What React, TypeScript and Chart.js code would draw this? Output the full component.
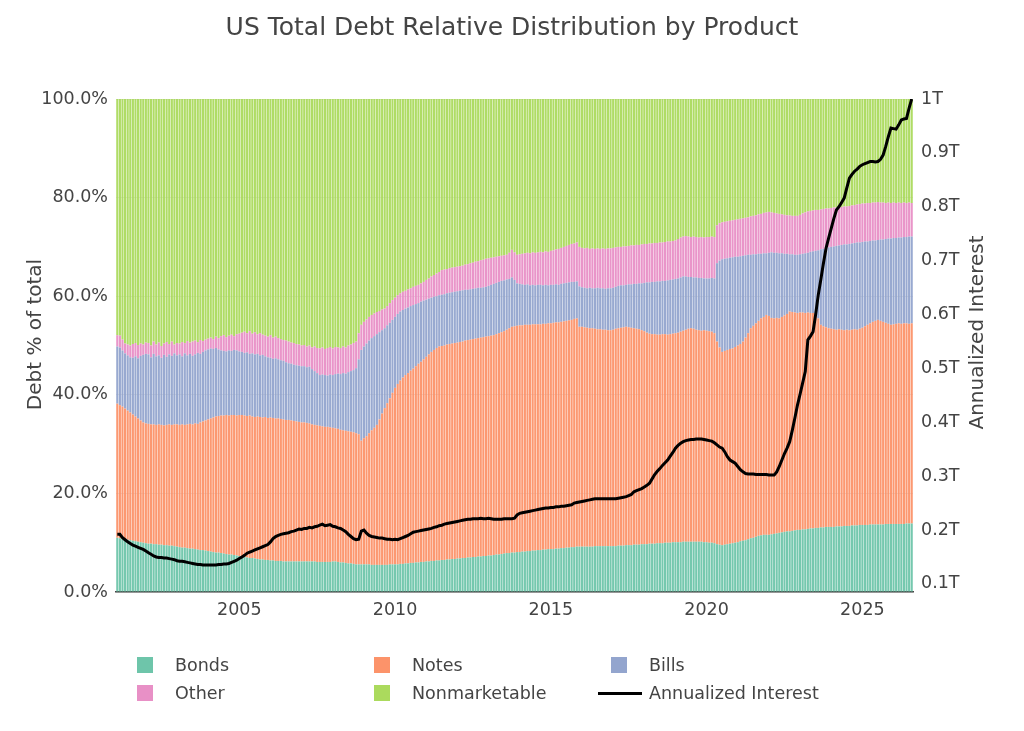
import React, { useEffect, useRef } from 'react';
import { Chart, registerables } from 'chart.js';

Chart.register(...registerables);

const FONT = '"DejaVu Sans", Verdana, sans-serif';
const INK = '#444';

// month-end observations, Jan 2001 .. Jul 2026
const firstYear = 2001;
const lastYear = 2026;
const lastMonth = 7;
const months: string[] = [];
for (let y = firstYear; y <= lastYear; y++) {
  for (let m = 1; m <= 12; m++) {
    if (y === lastYear && m > lastMonth) break;
    months.push(`${y}-${String(m).padStart(2, '0')}`);
  }
}

const yearTicks = ['2005', '2010', '2015', '2020', '2025'];
const rightTicks = [0.1, 0.2, 0.3, 0.4, 0.5, 0.6, 0.7, 0.8, 0.9, 1];

// share of total debt, percent
const bonds = [
  11.0, 10.9, 10.8, 10.7, 10.6, 10.5, 10.4, 10.3, 10.2, 10.1, 10.0, 9.9,
  9.8, 9.8, 9.7, 9.7, 9.6, 9.6, 9.5, 9.5, 9.4, 9.4, 9.3, 9.2,
  9.1, 9.0, 9.0, 8.9, 8.8, 8.8, 8.7, 8.6, 8.5, 8.5, 8.4, 8.3,
  8.2, 8.1, 8.0, 8.0, 7.9, 7.8, 7.7, 7.6, 7.6, 7.5, 7.4, 7.3,
  7.2, 7.1, 7.0, 6.9, 6.9, 6.8, 6.7, 6.6, 6.6, 6.5, 6.5, 6.4,
  6.4, 6.3, 6.3, 6.3, 6.2, 6.2, 6.2, 6.2, 6.2, 6.2, 6.2, 6.2,
  6.2, 6.2, 6.2, 6.2, 6.2, 6.1, 6.1, 6.1, 6.1, 6.1, 6.1, 6.2,
  6.2, 6.1, 6.0, 6.0, 5.9, 5.8, 5.8, 5.7, 5.6, 5.6, 5.6, 5.6,
  5.6, 5.6, 5.5, 5.5, 5.5, 5.5, 5.5, 5.5, 5.5, 5.6, 5.6, 5.6,
  5.6, 5.7, 5.7, 5.8, 5.8, 5.9, 5.9, 6.0, 6.0, 6.1, 6.1, 6.2,
  6.2, 6.3, 6.3, 6.4, 6.4, 6.5, 6.5, 6.6, 6.6, 6.7, 6.7, 6.8,
  6.8, 6.9, 6.9, 7.0, 7.0, 7.1, 7.1, 7.2, 7.2, 7.3, 7.3, 7.4,
  7.4, 7.5, 7.6, 7.6, 7.7, 7.8, 7.9, 7.9, 8.0, 8.0, 8.1, 8.1,
  8.2, 8.2, 8.3, 8.3, 8.4, 8.4, 8.5, 8.5, 8.6, 8.6, 8.7, 8.7,
  8.7, 8.8, 8.8, 8.9, 8.9, 9.0, 9.0, 9.1, 9.1, 9.2, 9.2, 9.2,
  9.2, 9.2, 9.2, 9.2, 9.3, 9.3, 9.3, 9.3, 9.3, 9.3, 9.3, 9.3,
  9.3, 9.4, 9.4, 9.4, 9.5, 9.5, 9.5, 9.6, 9.6, 9.6, 9.7, 9.7,
  9.7, 9.8, 9.8, 9.8, 9.9, 9.9, 9.9, 10.0, 10.0, 10.0, 10.1, 10.1,
  10.1, 10.1, 10.2, 10.2, 10.2, 10.2, 10.2, 10.2, 10.2, 10.2, 10.1, 10.1,
  10.0, 10.0, 9.9, 9.7, 9.6, 9.5, 9.6, 9.7, 9.8, 9.9, 10.0, 10.1,
  10.3, 10.4, 10.5, 10.7, 10.9, 11.0, 11.2, 11.4, 11.5, 11.6, 11.6, 11.6,
  11.7, 11.8, 11.9, 12.0, 12.1, 12.2, 12.3, 12.3, 12.4, 12.5, 12.6, 12.6,
  12.7, 12.7, 12.8, 12.9, 12.9, 13.0, 13.0, 13.1, 13.1, 13.2, 13.2, 13.2,
  13.2, 13.3, 13.3, 13.3, 13.4, 13.4, 13.4, 13.5, 13.5, 13.5, 13.6, 13.6,
  13.6, 13.6, 13.7, 13.7, 13.7, 13.7, 13.7, 13.7, 13.8, 13.8, 13.8, 13.8,
  13.8, 13.8, 13.8, 13.8, 13.9, 13.9, 13.9,
];

const notes = [
  27.2, 27.0, 26.8, 26.5, 26.2, 25.9, 25.6, 25.3, 25.0, 24.7, 24.4, 24.3,
  24.3, 24.2, 24.3, 24.2, 24.4, 24.3, 24.3, 24.4, 24.6, 24.5, 24.7, 24.8,
  24.8, 25.0, 24.9, 25.1, 25.3, 25.2, 25.5, 25.5, 25.9, 26.1, 26.4, 26.7,
  27.0, 27.3, 27.6, 27.7, 27.9, 28.0, 28.2, 28.2, 28.3, 28.4, 28.4, 28.6,
  28.7, 28.7, 28.7, 28.9, 28.7, 28.7, 28.9, 28.9, 28.8, 29.0, 28.8, 29.0,
  28.9, 28.9, 28.9, 28.8, 28.8, 28.7, 28.7, 28.6, 28.5, 28.4, 28.3, 28.2,
  28.2, 28.1, 28.0, 27.8, 27.7, 27.7, 27.6, 27.5, 27.4, 27.4, 27.3, 27.1,
  27.0, 27.0, 26.9, 26.8, 26.8, 26.8, 26.7, 26.7, 26.6, 26.4, 25.1, 25.6,
  26.0, 26.6, 27.3, 27.8, 28.4, 29.5, 30.7, 31.8, 32.8, 33.7, 34.8, 35.8,
  36.6, 37.2, 37.8, 38.2, 38.6, 39.0, 39.4, 39.8, 40.3, 40.6, 41.1, 41.5,
  42.0, 42.4, 42.8, 43.1, 43.4, 43.4, 43.5, 43.6, 43.7, 43.7, 43.8, 43.8,
  43.9, 43.9, 44.1, 44.1, 44.2, 44.2, 44.3, 44.3, 44.4, 44.4, 44.5, 44.5,
  44.6, 44.6, 44.7, 44.9, 45.0, 45.1, 45.3, 45.6, 45.8, 45.9, 45.9, 46.0,
  45.9, 46.0, 45.9, 45.9, 45.9, 45.9, 45.8, 45.8, 45.8, 45.8, 45.8, 45.8,
  45.9, 45.9, 45.9, 45.9, 46.0, 46.0, 46.1, 46.1, 46.3, 46.3, 44.6, 44.6,
  44.5, 44.4, 44.3, 44.3, 44.1, 44.0, 44.0, 43.9, 43.9, 43.8, 43.8, 43.9,
  44.1, 44.1, 44.2, 44.3, 44.3, 44.2, 44.1, 43.9, 43.8, 43.7, 43.4, 43.2,
  42.9, 42.6, 42.5, 42.5, 42.3, 42.3, 42.4, 42.3, 42.2, 42.3, 42.3, 42.4,
  42.5, 42.7, 42.8, 43.0, 43.2, 43.3, 43.2, 43.0, 42.9, 42.8, 43.0, 42.9,
  42.9, 42.8, 42.6, 41.1, 40.0, 39.2, 39.3, 39.4, 39.5, 39.5, 39.7, 39.9,
  40.0, 40.4, 41.1, 41.8, 42.6, 43.0, 43.3, 43.6, 44.0, 44.2, 44.6, 44.4,
  43.9, 43.7, 43.7, 43.5, 43.7, 43.9, 44.1, 44.6, 44.4, 44.2, 44.0, 44.1,
  44.0, 43.9, 43.9, 43.7, 43.7, 43.6, 42.5, 41.1, 40.8, 40.5, 40.3, 40.2,
  40.1, 39.9, 40.0, 39.9, 39.7, 39.8, 39.7, 39.7, 39.8, 39.7, 39.8, 40.0,
  40.3, 40.6, 40.8, 41.1, 41.3, 41.5, 41.3, 41.1, 40.8, 40.6, 40.4, 40.5,
  40.6, 40.7, 40.6, 40.7, 40.6, 40.5, 40.6,
];

const bills = [
  11.6, 11.7, 11.4, 11.2, 11.2, 11.2, 11.5, 12.2, 12.2, 13.1, 13.7, 14.1,
  14.1, 13.6, 14.3, 13.9, 14.0, 13.6, 14.3, 13.8, 14.2, 14.0, 14.4, 14.0,
  14.3, 13.8, 14.5, 14.0, 14.2, 13.9, 14.0, 14.4, 13.9, 14.1, 14.2, 14.2,
  14.2, 13.9, 13.9, 13.5, 13.2, 13.1, 12.9, 13.2, 13.0, 13.2, 13.2, 12.9,
  12.8, 12.7, 12.9, 12.5, 12.8, 12.7, 12.7, 12.5, 12.7, 12.3, 12.3, 12.1,
  12.0, 12.2, 12.0, 11.9, 11.9, 11.7, 11.5, 11.5, 11.4, 11.4, 11.4, 11.4,
  11.4, 11.3, 11.5, 11.2, 10.9, 10.6, 10.3, 10.5, 10.5, 10.4, 10.7, 10.7,
  11.0, 11.2, 11.3, 11.6, 11.6, 12.0, 12.3, 12.6, 13.2, 15.2, 18.4, 18.6,
  18.8, 18.8, 18.7, 18.6, 18.4, 17.7, 16.9, 16.2, 15.8, 15.3, 14.8, 14.4,
  14.2, 14.0, 13.7, 13.5, 13.3, 13.1, 12.9, 12.6, 12.3, 12.2, 11.9, 11.6,
  11.3, 11.0, 10.8, 10.5, 10.4, 10.4, 10.4, 10.4, 10.4, 10.4, 10.4, 10.4,
  10.4, 10.4, 10.3, 10.2, 10.2, 10.2, 10.2, 10.2, 10.1, 10.1, 10.1, 10.2,
  10.3, 10.4, 10.4, 10.4, 10.4, 10.3, 10.2, 10.0, 10.0, 9.4, 8.6, 8.4,
  8.3, 8.1, 8.2, 8.0, 8.0, 7.9, 8.0, 8.0, 7.8, 7.9, 7.7, 7.8,
  7.7, 7.7, 7.6, 7.7, 7.7, 7.7, 7.7, 7.7, 7.5, 7.5, 8.2, 8.0,
  8.0, 8.0, 8.2, 8.1, 8.2, 8.4, 8.3, 8.4, 8.3, 8.5, 8.5, 8.5,
  8.5, 8.6, 8.6, 8.5, 8.5, 8.7, 8.8, 9.0, 9.1, 9.3, 9.5, 9.8,
  10.2, 10.4, 10.6, 10.6, 10.8, 10.8, 10.8, 10.8, 11.0, 11.0, 11.0, 11.0,
  11.0, 11.0, 11.0, 10.8, 10.5, 10.4, 10.4, 10.6, 10.6, 10.7, 10.5, 10.6,
  10.7, 10.9, 11.1, 15.9, 17.6, 18.8, 18.7, 18.6, 18.5, 18.5, 18.3, 18.0,
  17.8, 17.4, 16.7, 15.9, 14.9, 14.5, 14.0, 13.6, 13.1, 12.9, 12.5, 12.8,
  13.3, 13.3, 13.2, 13.2, 12.9, 12.5, 12.2, 11.6, 11.7, 11.7, 11.8, 11.8,
  11.9, 12.1, 12.1, 12.4, 12.5, 12.6, 13.8, 15.3, 15.7, 16.0, 16.4, 16.6,
  16.8, 17.0, 17.0, 17.2, 17.4, 17.3, 17.5, 17.5, 17.5, 17.7, 17.5, 17.4,
  17.2, 16.9, 16.7, 16.5, 16.3, 16.2, 16.5, 16.7, 17.0, 17.3, 17.5, 17.5,
  17.4, 17.4, 17.5, 17.5, 17.5, 17.7, 17.6,
];

const other = [
  2.3, 2.4, 2.2, 2.0, 2.2, 2.4, 2.8, 2.7, 2.7, 2.5, 2.1, 2.3,
  2.3, 2.4, 2.5, 2.4, 2.6, 2.4, 2.3, 3.0, 2.1, 2.9, 1.8, 2.5,
  2.2, 2.9, 2.1, 2.9, 2.3, 2.9, 2.8, 2.2, 2.8, 2.2, 2.2, 2.2,
  2.2, 2.0, 2.3, 2.3, 2.9, 3.2, 2.9, 3.0, 3.3, 2.8, 3.3, 3.6,
  3.9, 4.3, 3.9, 4.6, 4.0, 4.5, 4.0, 4.5, 4.1, 4.2, 4.2, 4.6,
  4.3, 4.4, 4.3, 4.3, 4.2, 4.4, 4.4, 4.3, 4.4, 4.3, 4.3, 4.2,
  4.3, 4.2, 4.3, 4.4, 5.0, 5.1, 5.4, 5.5, 5.3, 5.6, 5.6, 5.4,
  5.5, 5.3, 5.3, 5.4, 5.3, 5.4, 5.4, 5.5, 5.4, 5.3, 5.1, 5.0,
  4.9, 4.8, 4.7, 4.6, 4.5, 4.3, 4.2, 4.0, 3.9, 4.0, 4.0, 3.9,
  3.8, 3.7, 3.7, 3.6, 3.7, 3.6, 3.7, 3.7, 3.7, 3.7, 3.8, 4.0,
  4.1, 4.3, 4.4, 4.6, 4.7, 5.0, 5.0, 4.9, 5.0, 5.0, 5.0, 5.0,
  5.0, 5.0, 5.1, 5.2, 5.3, 5.3, 5.4, 5.4, 5.6, 5.6, 5.7, 5.6,
  5.5, 5.4, 5.3, 5.2, 5.1, 5.1, 5.0, 5.3, 5.6, 5.6, 5.8, 6.0,
  6.2, 6.4, 6.4, 6.5, 6.6, 6.6, 6.6, 6.7, 6.7, 6.8, 6.8, 6.9,
  7.0, 7.1, 7.3, 7.3, 7.4, 7.5, 7.6, 7.7, 7.8, 7.9, 8.0, 8.0,
  8.0, 8.2, 7.9, 8.1, 8.0, 8.0, 8.0, 8.1, 8.1, 8.1, 8.1, 8.1,
  8.0, 7.9, 7.8, 7.9, 7.8, 7.8, 7.9, 7.8, 7.9, 7.8, 7.9, 7.9,
  7.8, 7.9, 7.8, 7.9, 7.8, 7.9, 7.8, 7.9, 7.9, 7.8, 7.8, 7.8,
  8.0, 8.1, 8.1, 8.2, 8.2, 8.1, 8.3, 8.2, 8.2, 8.3, 8.3, 8.4,
  8.4, 8.4, 8.4, 7.7, 7.6, 7.5, 7.5, 7.5, 7.5, 7.5, 7.5, 7.6,
  7.6, 7.6, 7.6, 7.6, 7.8, 7.8, 7.9, 8.0, 8.1, 8.2, 8.3, 8.3,
  8.1, 8.1, 8.0, 8.0, 7.9, 7.9, 7.8, 7.9, 7.8, 7.9, 7.9, 8.0,
  8.2, 8.3, 8.4, 8.3, 8.3, 8.3, 8.2, 8.1, 8.1, 8.1, 7.9, 7.9,
  7.9, 7.8, 7.8, 7.7, 7.7, 7.7, 7.7, 7.7, 7.7, 7.7, 7.8, 7.8,
  7.7, 7.8, 7.7, 7.7, 7.7, 7.7, 7.5, 7.5, 7.3, 7.3, 7.2, 7.2,
  7.1, 7.1, 7.0, 7.0, 6.9, 6.9, 6.8,
];

const nonmarketable = [
  47.9, 48.0, 48.8, 49.6, 49.8, 50.0, 49.7, 49.5, 49.9, 49.6, 49.8, 49.4,
  49.5, 50.0, 49.2, 49.8, 49.4, 50.1, 49.6, 49.3, 49.7, 49.2, 49.8, 49.5,
  49.6, 49.3, 49.5, 49.1, 49.4, 49.2, 49.0, 49.3, 48.9, 49.1, 48.8, 48.6,
  48.4, 48.7, 48.2, 48.5, 48.1, 47.9, 48.3, 48.0, 47.8, 48.1, 47.7, 47.6,
  47.4, 47.2, 47.5, 47.1, 47.6, 47.3, 47.7, 47.5, 47.8, 48.0, 48.2, 47.9,
  48.4, 48.2, 48.5, 48.7, 48.9, 49.0, 49.2, 49.4, 49.5, 49.7, 49.8, 50.0,
  49.9, 50.2, 50.0, 50.4, 50.2, 50.5, 50.6, 50.4, 50.7, 50.5, 50.3, 50.6,
  50.3, 50.4, 50.5, 50.2, 50.4, 50.0, 49.8, 49.5, 49.2, 47.5, 45.8, 45.2,
  44.7, 44.2, 43.8, 43.5, 43.2, 43.0, 42.7, 42.5, 42.0, 41.4, 40.8, 40.3,
  39.8, 39.4, 39.1, 38.9, 38.6, 38.4, 38.1, 37.9, 37.7, 37.4, 37.1, 36.7,
  36.4, 36.0, 35.7, 35.4, 35.1, 34.7, 34.6, 34.5, 34.3, 34.2, 34.1, 34.0,
  33.9, 33.8, 33.6, 33.5, 33.3, 33.2, 33.0, 32.9, 32.7, 32.6, 32.4, 32.3,
  32.2, 32.1, 32.0, 31.9, 31.8, 31.7, 31.6, 31.2, 30.6, 31.1, 31.6, 31.5,
  31.4, 31.3, 31.2, 31.3, 31.1, 31.2, 31.1, 31.0, 31.1, 30.9, 31.0, 30.8,
  30.7, 30.5, 30.4, 30.2, 30.0, 29.8, 29.6, 29.4, 29.3, 29.1, 30.0, 30.2,
  30.3, 30.2, 30.4, 30.3, 30.4, 30.3, 30.4, 30.3, 30.4, 30.3, 30.3, 30.2,
  30.1, 30.0, 30.0, 29.9, 29.9, 29.8, 29.7, 29.7, 29.6, 29.6, 29.5, 29.4,
  29.4, 29.3, 29.3, 29.2, 29.2, 29.1, 29.1, 29.0, 28.9, 28.9, 28.8, 28.7,
  28.4, 28.1, 27.9, 27.8, 27.9, 28.0, 27.9, 28.0, 28.1, 28.0, 28.1, 28.0,
  28.0, 27.9, 28.0, 25.6, 25.2, 25.0, 24.9, 24.8, 24.7, 24.6, 24.5, 24.4,
  24.3, 24.2, 24.1, 24.0, 23.8, 23.7, 23.6, 23.4, 23.3, 23.1, 23.0, 22.9,
  23.0, 23.1, 23.2, 23.3, 23.4, 23.5, 23.6, 23.6, 23.7, 23.7, 23.7, 23.5,
  23.2, 23.0, 22.8, 22.7, 22.6, 22.5, 22.5, 22.4, 22.3, 22.2, 22.2, 22.1,
  22.0, 22.0, 21.9, 21.9, 21.8, 21.8, 21.7, 21.6, 21.5, 21.4, 21.3, 21.2,
  21.2, 21.1, 21.1, 21.0, 21.0, 20.9, 21.0, 21.0, 21.1, 21.0, 21.1, 21.0,
  21.1, 21.0, 21.1, 21.0, 21.1, 21.0, 21.1,
];

// annualized interest, trillions of dollars
const interest = [
  0.192, 0.192, 0.186, 0.182, 0.178, 0.175, 0.172, 0.170, 0.168, 0.166, 0.164, 0.161,
  0.158, 0.155, 0.152, 0.150, 0.149, 0.149, 0.148, 0.148, 0.147, 0.146, 0.145, 0.143,
  0.142, 0.142, 0.141, 0.140, 0.139, 0.138, 0.137, 0.136, 0.136, 0.135, 0.135, 0.135,
  0.135, 0.135, 0.135, 0.136, 0.136, 0.137, 0.137, 0.138, 0.140, 0.142, 0.144, 0.147,
  0.150, 0.153, 0.157, 0.159, 0.161, 0.163, 0.165, 0.167, 0.169, 0.171, 0.173, 0.178,
  0.184, 0.188, 0.190, 0.192, 0.193, 0.194, 0.195, 0.197, 0.198, 0.200, 0.202, 0.201,
  0.203, 0.203, 0.205, 0.204, 0.206, 0.207, 0.209, 0.211, 0.208, 0.209, 0.210, 0.207,
  0.206, 0.204, 0.203, 0.200, 0.197, 0.192, 0.188, 0.184, 0.182, 0.183, 0.198, 0.200,
  0.194, 0.190, 0.188, 0.187, 0.186, 0.185, 0.185, 0.184, 0.183, 0.183, 0.182, 0.183,
  0.182, 0.184, 0.186, 0.188, 0.190, 0.193, 0.196, 0.197, 0.198, 0.199, 0.200, 0.201,
  0.202, 0.203, 0.205, 0.206, 0.208, 0.209, 0.211, 0.212, 0.213, 0.214, 0.215, 0.216,
  0.217, 0.218, 0.219, 0.220, 0.220, 0.221, 0.221, 0.221, 0.222, 0.221, 0.221, 0.222,
  0.221, 0.220, 0.220, 0.220, 0.220, 0.221, 0.221, 0.221, 0.221, 0.222, 0.228, 0.231,
  0.232, 0.233, 0.234, 0.235, 0.236, 0.237, 0.238, 0.239, 0.240, 0.241, 0.241, 0.242,
  0.242, 0.243, 0.243, 0.244, 0.244, 0.245, 0.246, 0.247, 0.250, 0.251, 0.252, 0.253,
  0.254, 0.255, 0.256, 0.257, 0.258, 0.258, 0.258, 0.258, 0.258, 0.258, 0.258, 0.258,
  0.258, 0.259, 0.260, 0.261, 0.262, 0.264, 0.266, 0.271, 0.273, 0.275, 0.277, 0.280,
  0.283, 0.287, 0.295, 0.303, 0.309, 0.314, 0.320, 0.325, 0.330, 0.337, 0.344, 0.352,
  0.357, 0.361, 0.364, 0.366, 0.367, 0.368, 0.368, 0.369, 0.369, 0.369, 0.368, 0.367,
  0.366, 0.365, 0.362, 0.358, 0.354, 0.352, 0.345, 0.336, 0.330, 0.327, 0.324, 0.318,
  0.312, 0.308, 0.305, 0.304, 0.304, 0.304, 0.303, 0.303, 0.303, 0.303, 0.303, 0.302,
  0.302, 0.302, 0.308, 0.318, 0.330, 0.342, 0.352, 0.364, 0.385, 0.408, 0.432, 0.452,
  0.473, 0.494, 0.553, 0.560, 0.568, 0.600, 0.636, 0.665, 0.695, 0.723, 0.742, 0.760,
  0.778, 0.794, 0.800, 0.808, 0.816, 0.835, 0.853, 0.860, 0.866, 0.870, 0.875, 0.878,
  0.880, 0.882, 0.884, 0.884, 0.883, 0.884, 0.888, 0.896, 0.912, 0.930, 0.946, 0.945,
  0.944, 0.952, 0.961, 0.963, 0.964, 0.983, 1.000,
];

const SET2 = {
  bonds: '#66c2a5',
  notes: '#fc8d62',
  bills: '#8da0cb',
  other: '#e78ac3',
  nonmarketable: '#a6d854',
};

const legendItems = [
  { label: 'Bonds', color: SET2.bonds, col: 0, row: 0 },
  { label: 'Notes', color: SET2.notes, col: 1, row: 0 },
  { label: 'Bills', color: SET2.bills, col: 2, row: 0 },
  { label: 'Other', color: SET2.other, col: 0, row: 1 },
  { label: 'Nonmarketable', color: SET2.nonmarketable, col: 1, row: 1 },
  { label: 'Annualized Interest', color: '#000', col: 2, row: 1, line: true },
];

// both axis titles read bottom-to-top
const axisTitles = {
  id: 'axisTitles',
  afterDraw(chart: any) {
    const { ctx } = chart;
    const { y, y1 } = chart.scales;
    const mid = (y.top + y.bottom) / 2;
    const put = (text: string, x: number, cy: number) => {
      ctx.save();
      ctx.translate(x, cy);
      ctx.rotate(-Math.PI / 2);
      ctx.font = `20px ${FONT}`;
      ctx.fillStyle = INK;
      ctx.textAlign = 'center';
      ctx.textBaseline = 'middle';
      ctx.fillText(text, 0, 0);
      ctx.restore();
    };
    put('Debt % of total', y.left + 36, mid - 11);
    put('Annualized Interest', y1.right - 46, mid - 13);
  },
};

function barSet(label: string, data: number[], color: string) {
  return {
    type: 'bar' as const,
    label,
    data,
    backgroundColor: color + 'e6',
    borderWidth: 0,
    yAxisID: 'y',
    stack: 'debt',
    order: 1,
    barPercentage: 0.82,
    categoryPercentage: 1,
  };
}

export default function App() {
  const canvas = useRef<HTMLCanvasElement>(null);

  useEffect(() => {
    const chart = new Chart(canvas.current!, {
      type: 'bar',
      data: {
        labels: months,
        datasets: [
          {
            type: 'line',
            label: 'Annualized Interest',
            data: interest,
            yAxisID: 'y1',
            borderColor: '#000',
            borderWidth: 3,
            pointRadius: 0,
            tension: 0,
            order: 0,
          } as any,
          barSet('Bonds', bonds, SET2.bonds),
          barSet('Notes', notes, SET2.notes),
          barSet('Bills', bills, SET2.bills),
          barSet('Other', other, SET2.other),
          barSet('Nonmarketable', nonmarketable, SET2.nonmarketable),
        ],
      },
      options: {
        animation: false,
        responsive: true,
        maintainAspectRatio: false,
        events: [],
        layout: { padding: 0 },
        plugins: {
          legend: { display: false },
          tooltip: { enabled: false },
          title: {
            display: true,
            text: 'US Total Debt Relative Distribution by Product',
            color: INK,
            font: { family: FONT, size: 25, weight: 'normal', lineHeight: 1.2 },
            padding: { top: 13, bottom: 56 },
          },
        },
        scales: {
          x: {
            stacked: true,
            offset: true,
            grid: { display: false, drawTicks: false },
            border: { color: INK, width: 1.5 },
            ticks: {
              autoSkip: false,
              maxRotation: 0,
              padding: 8,
              color: INK,
              font: { family: FONT, size: 17.5 },
              callback(value: any) {
                const lab = months[value as number];
                if (!lab || !lab.endsWith('-12')) return '';
                const next = String(Number(lab.slice(0, 4)) + 1);
                return yearTicks.includes(next) ? next : '';
              },
            },
            afterFit(scale: any) {
              scale.height = 139;
            },
          },
          y: {
            stacked: true,
            min: 0,
            max: 100,
            grid: { color: '#e8e8e8', drawTicks: false },
            border: { display: false },
            ticks: {
              stepSize: 20,
              padding: 8,
              color: INK,
              font: { family: FONT, size: 17.5 },
              callback: (v: any) => `${Number(v).toFixed(1)}%`,
            },
            afterFit(scale: any) {
              scale.width = 116;
            },
          },
          y1: {
            position: 'right',
            min: 0.085,
            max: 1,
            grid: { display: false, drawTicks: false },
            border: { display: false },
            afterBuildTicks(scale: any) {
              scale.ticks = rightTicks.map((v) => ({ value: v }));
            },
            ticks: {
              padding: 8,
              color: INK,
              font: { family: FONT, size: 17.5 },
              callback: (v: any) => `${Number(Number(v).toFixed(1))}T`,
            },
            afterFit(scale: any) {
              scale.width = 111;
            },
          },
        },
      },
      plugins: [axisTitles],
    } as any);
    return () => {
      chart.destroy();
    };
  }, []);

  return (
    <div style={{ position: 'absolute', left: 0, top: 0, width: 1024, height: 731, background: '#fff' }}>
      <canvas ref={canvas} />
      {legendItems.map((it) => {
        const left = [137, 374, 611][it.col];
        const cy = [665, 693][it.row];
        return (
          <div key={it.label}>
            {it.line ? (
              <div style={{ position: 'absolute', left: 598, top: cy - 1.5, width: 44, height: 3, background: '#000' }} />
            ) : (
              <div style={{ position: 'absolute', left, top: cy - 8, width: 16, height: 16, background: it.color, opacity: 0.95 }} />
            )}
            <div
              style={{
                position: 'absolute',
                left: left + 38,
                top: cy - 11,
                height: 22,
                lineHeight: '22px',
                fontFamily: FONT,
                fontSize: 17.5,
                color: INK,
                whiteSpace: 'nowrap',
              }}
            >
              {it.label}
            </div>
          </div>
        );
      })}
    </div>
  );
}
